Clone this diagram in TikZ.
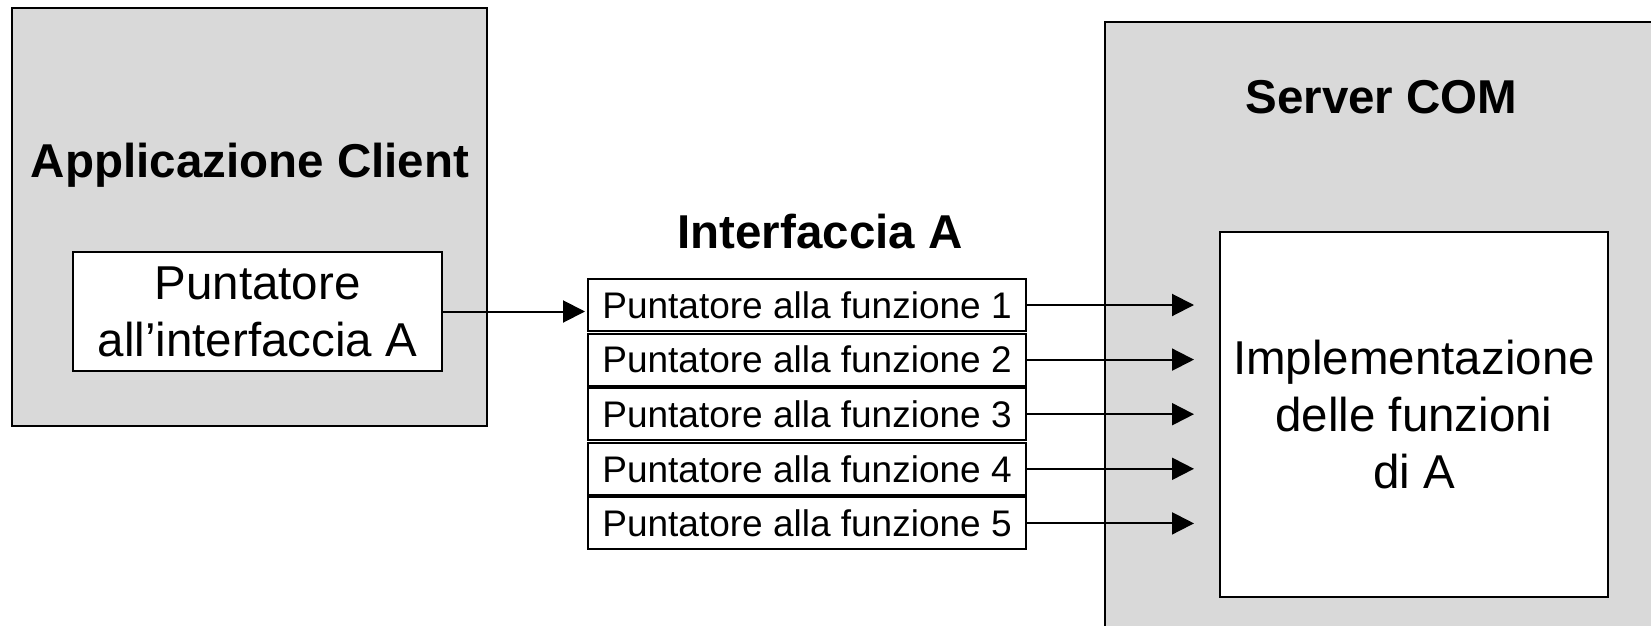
\documentclass[tikz,border=0pt]{standalone}
\usepackage{fontspec}
\setmainfont{Liberation Sans}
\usetikzlibrary{arrows.meta}

\definecolor{boxgray}{HTML}{D9D9D9}
\tikzset{
  bigbox/.style={draw, shape=rectangle, fill=boxgray, line width=2pt},
  ptrbox/.style={draw, shape=rectangle, fill=white, line width=2pt, align=center, inner sep=0pt, font=\fontsize{47.5pt}{57pt}\selectfont},
  boxtitle/.style={font=\fontsize{47.5pt}{57pt}\selectfont\bfseries, anchor=base, inner sep=0pt},
  fnrow/.style={draw, shape=rectangle, fill=white, line width=2pt, minimum width=438pt, minimum height=52pt, inner sep=0pt, font=\fontsize{37pt}{44pt}\selectfont},
  link/.style={-{Triangle[length=22pt,width=22pt]}, line width=2pt},
}

\begin{document}
\begin{tikzpicture}[x=1pt, y=-1pt]
\useasboundingbox (0,0) rectangle (1651,626);
\clip (0,0) rectangle (1651,626);
% client
\node[bigbox, minimum width=475pt, minimum height=418pt] (client) at (249.5,217) {};
\node[boxtitle] (clienttitle) at (250,177) {Applicazione Client};
\node[ptrbox, minimum width=369pt, minimum height=119pt] (ptr) at (257.5,311.5) {Puntatore\\all’interfaccia A};
% server (runs off the page on the right and bottom)
\node[bigbox, minimum width=600pt, minimum height=700pt] (server) at (1405,372) {};
\node[boxtitle] (servertitle) at (1381.5,113) {Server COM};
\node[ptrbox, minimum width=388pt, minimum height=365pt] (impl) at (1414,414.5) {Implementazione\\delle funzioni\\di A};
% vtable
\node[boxtitle] (iftitle) at (820,248) {Interfaccia A};
\node[fnrow] (f1) at (807,305) {Puntatore alla funzione 1};
\node[fnrow, below of=f1, node distance=54.6pt] (f2) {Puntatore alla funzione 2};
\node[fnrow, below of=f2, node distance=54.6pt] (f3) {Puntatore alla funzione 3};
\node[fnrow, below of=f3, node distance=54.6pt] (f4) {Puntatore alla funzione 4};
\node[fnrow, below of=f4, node distance=54.6pt] (f5) {Puntatore alla funzione 5};
\draw[link, shorten >=2pt] (ptr.east) -- (ptr.east -| f1.west);
\draw[link] (f1.east) -- ([xshift=-25pt] f1.east -| impl.west);
\draw[link] (f2.east) -- ([xshift=-25pt] f2.east -| impl.west);
\draw[link] (f3.east) -- ([xshift=-25pt] f3.east -| impl.west);
\draw[link] (f4.east) -- ([xshift=-25pt] f4.east -| impl.west);
\draw[link] (f5.east) -- ([xshift=-25pt] f5.east -| impl.west);
\end{tikzpicture}
\end{document}
